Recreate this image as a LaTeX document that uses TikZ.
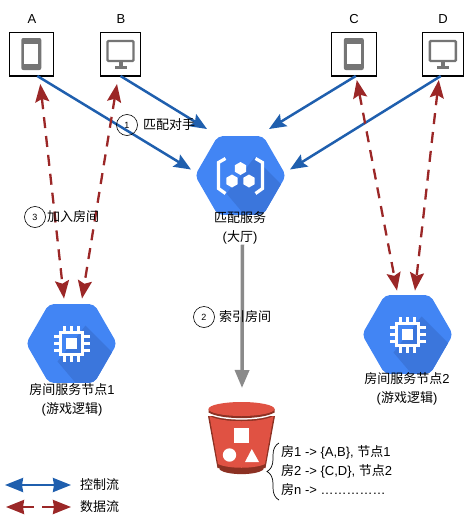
\documentclass[tikz,border=0pt]{standalone}
\usepackage{fontspec}
\setmainfont{Liberation Sans}
\newfontfamily\cjk{Noto Sans CJK SC}
\usetikzlibrary{arrows.meta,shapes.geometric,decorations.pathreplacing}
\definecolor{ctrlblue}{HTML}{1F5FAE}
\definecolor{datared}{HTML}{9B2727}
\definecolor{iconblue}{HTML}{4285F4}
\definecolor{iconshade}{HTML}{3B76DC}
\definecolor{icongray}{HTML}{757575}
\definecolor{indexgray}{HTML}{8A8A8A}
\definecolor{bucketred}{HTML}{E05243}
\definecolor{bucketdark}{HTML}{8C3123}
\tikzset{
  devbox/.style={draw=black, line width=0.8pt, fill=white, minimum height=44pt, inner sep=0pt, outer sep=0pt},
  hexbox/.style={regular polygon, regular polygon sides=6, minimum size=91pt, inner sep=0pt, outer sep=0pt,
    fill=iconblue, rounded corners=5pt,
    path picture={\begin{scope}[shift={(path picture bounding box.center)}, sharp corners]
      \fill[iconshade] (14,-18) -- (66,34) -- (30,70) -- (-14,18) -- cycle;
    \end{scope}}},
  ctrlflow/.style={ctrlblue, line width=2.5pt, -{Stealth[length=17pt,width=14pt,inset=3pt]}},
  dataflow/.style={datared, line width=2.3pt, dash pattern=on 11pt off 8pt, {Stealth[length=18pt,width=14pt,inset=3pt]}-{Stealth[length=18pt,width=14pt,inset=3pt]}},
  lbl/.style={font=\fontsize{13pt}{15pt}\selectfont, inner sep=0pt, align=center},
  stepmark/.style={draw=black, circle, line width=0.6pt, minimum size=21pt, inner sep=0pt, font=\fontsize{9pt}{11pt}\selectfont},
  phoneicon/.pic={
    \fill[icongray, rounded corners=2pt] (-10,-16) rectangle (10,16);
    \fill[white] (-7,-10.5) rectangle (7,10);
  },
  monitoricon/.pic={
    \draw[icongray, line width=2.4pt, rounded corners=1pt] (-13,-13) rectangle (13,7);
    \fill[icongray] (-2,8) rectangle (2,12);
    \fill[icongray] (-6,12) rectangle (6,14.5);
  },
  chipicon/.pic={
    \draw[white, line width=2.4pt] (-11,-11) rectangle (11,11);
    \fill[white] (-5.5,-5.5) rectangle (5.5,5.5);
    \foreach \p in {-7,0,7} {
      \draw[white, line width=2.2pt] (\p,-12) -- (\p,-18) (\p,12) -- (\p,18);
      \draw[white, line width=2.2pt] (-12,\p) -- (-18,\p) (12,\p) -- (18,\p);
    }
  },
  huxicon/.pic={
    \draw[white, line width=3.2pt] (-15,-17) -- (-22,-13) -- (-22,13) -- (-15,18);
    \draw[white, line width=3.2pt] (15,-17) -- (22,-13) -- (22,13) -- (15,18);
    \node[regular polygon, regular polygon sides=6, shape border rotate=30, fill=white, minimum size=13pt, inner sep=0pt] at (0,-7) {};
    \node[regular polygon, regular polygon sides=6, shape border rotate=30, fill=white, minimum size=13pt, inner sep=0pt] at (-8.5,5.5) {};
    \node[regular polygon, regular polygon sides=6, shape border rotate=30, fill=white, minimum size=13pt, inner sep=0pt] at (8.5,5.5) {};
  }
}
\begin{document}
\begin{tikzpicture}[x=1pt, y=-1pt]
  \useasboundingbox (0,0) rectangle (464,525);

  % devices
  \node[devbox, minimum width=44pt] (boxA) at (31.3,54) {};
  \node[devbox, minimum width=40pt] (boxB) at (120.5,54) {};
  \node[devbox, minimum width=45pt] (boxC) at (353.8,54) {};
  \node[devbox, minimum width=41pt] (boxD) at (442.8,54) {};
  \foreach \b in {boxA,boxB,boxC,boxD}
    \draw[black, line width=1.5pt] (\b.south west) -- (\b.south east);
  \pic at (boxA) {phoneicon};
  \pic at (boxB) {monitoricon};
  \pic at (boxC) {phoneicon};
  \pic at (boxD) {monitoricon};
  \node[lbl] (nameA) at (32,19) {A};
  \node[lbl] (nameB) at (121,19) {B};
  \node[lbl] (nameC) at (354,19) {C};
  \node[lbl] (nameD) at (443,19) {D};

  % services
  \node[hexbox] (hub) at (240.5,175.5) {};
  \node[hexbox] (room1) at (71.5,343.5) {};
  \node[hexbox] (room2) at (407.5,334.5) {};
  \pic at (hub) {huxicon};
  \pic at (room1) {chipicon};
  \pic at (room2) {chipicon};
  \node[lbl] (hubname) at (240,228) {{\cjk 匹配服务}\\[4pt]({\cjk 大厅})};
  \node[lbl] (room1name) at (72,400) {{\cjk 房间服务节点}1\\[3.5pt]({\cjk 游戏逻辑})};
  \node[lbl] (room2name) at (407,389) {{\cjk 房间服务节点}2\\[3.5pt]({\cjk 游戏逻辑})};

  % bucket
  \fill[bucketdark] (217,462) -- (220,470) .. controls (228,475.5) and (255,475.5) .. (263,470) -- (266,462) -- cycle;
  \fill[bucketdark] (208,416) -- (217.5,468) -- (265.5,468) -- (275,416) -- cycle;
  \fill[bucketred] (209.5,416) .. controls (222,423) and (261,423) .. (273.5,416) -- (265,464) .. controls (255,469) and (228,469) .. (218,464) -- cycle;
  \fill[white] (208.5,414) .. controls (221,421.5) and (262,421.5) .. (274.5,414) -- (274.5,412) -- (208.5,412) -- cycle;
  \fill[bucketdark] (208.5,409) -- (208.5,412.5) .. controls (221,420) and (262,420) .. (274.5,412.5) -- (274.5,409) -- cycle;
  \fill[bucketred] (241.5,409) ellipse[x radius=33, y radius=7];
  \fill[white] (234,428) rectangle (248.5,443);
  \fill[white] (229.5,455) circle[radius=6.7];
  \fill[white] (245,462) -- (251.8,449) -- (259,462) -- cycle;
  \draw[black, line width=0.7pt, decorate, decoration={brace, amplitude=12pt}] (279,500) -- (279,443);
  \coordinate (bucket) at (242,388);
  \node[lbl, anchor=west] (row1) at (281,452) {{\cjk 房}1 -> \{A,B\}, {\cjk 节点}1};
  \node[lbl, anchor=west] (row2) at (281,471) {{\cjk 房}2 -> \{C,D\}, {\cjk 节点}2};
  \node[lbl, anchor=west] (row3) at (281,490) {{\cjk 房}n -> \ldots\ldots\ldots\ldots\ldots};

  % control flow
  \draw[ctrlflow] ([xshift=6pt]boxA.south) -- ([xshift=-49.5pt,yshift=6pt]hub.center);
  \draw[ctrlflow] (boxB.south) -- ([xshift=-33.5pt,yshift=46.5pt]hub.center);
  \draw[ctrlflow] ([xshift=2pt]boxC.south) -- ([xshift=28.5pt,yshift=46.5pt]hub.center);
  \draw[ctrlflow] ([xshift=-2pt]boxD.south) -- ([xshift=49.5pt,yshift=6pt]hub.center);

  % data flow
  \draw[dataflow] ([xshift=9pt,yshift=-8pt]boxA.south) -- ([xshift=-7.5pt,yshift=5.5pt]room1.north);
  \draw[dataflow] ([xshift=-3.5pt,yshift=-8pt]boxB.south) -- ([xshift=10.5pt,yshift=5.5pt]room1.north);
  \draw[dataflow] ([xshift=3pt,yshift=-4pt]boxC.south) -- ([xshift=-10.5pt,yshift=4.5pt]room2.north);
  \draw[dataflow] ([xshift=-4pt,yshift=-4pt]boxD.south) -- ([xshift=7.5pt,yshift=4.5pt]room2.north);

  % index
  \draw[indexgray, line width=3.5pt, -{Stealth[length=18pt,width=14pt,inset=0pt]}] ([xshift=2.5pt]hubname.south) -- (bucket);

  % step labels
  \node[stepmark] (step1) at (127,125) {1};
  \node[lbl, anchor=west] (step1name) at (143,125) {\cjk 匹配对手};
  \node[stepmark] (step3) at (35,217) {3};
  \node[lbl, anchor=west] (step3name) at (47,217) {\cjk 加入房间};
  \node[stepmark] (step2) at (204,317) {2};
  \node[lbl, anchor=west] (step2name) at (219,317) {\cjk 索引房间};

  % legend
  \coordinate (ctrlL) at (5,485);
  \coordinate (ctrlR) at (71,485);
  \coordinate (dataL) at (6,507);
  \coordinate (dataR) at (71,507);
  \draw[ctrlblue, line width=2.5pt, {Stealth[length=18pt,width=14pt,inset=1pt]}-{Stealth[length=18pt,width=14pt,inset=1pt]}] (ctrlL) -- (ctrlR);
  \draw[datared, line width=2.5pt, dash pattern=on 12pt off 8pt on 30pt off 30pt, {Stealth[length=18pt,width=14pt,inset=1pt]}-{Stealth[length=18pt,width=14pt,inset=1pt]}] (dataL) -- (dataR);
  \node[lbl, anchor=west] (ctrlname) at (80,485) {\cjk 控制流};
  \node[lbl, anchor=west] (dataname) at (80,507) {\cjk 数据流};
\end{tikzpicture}
\end{document}
